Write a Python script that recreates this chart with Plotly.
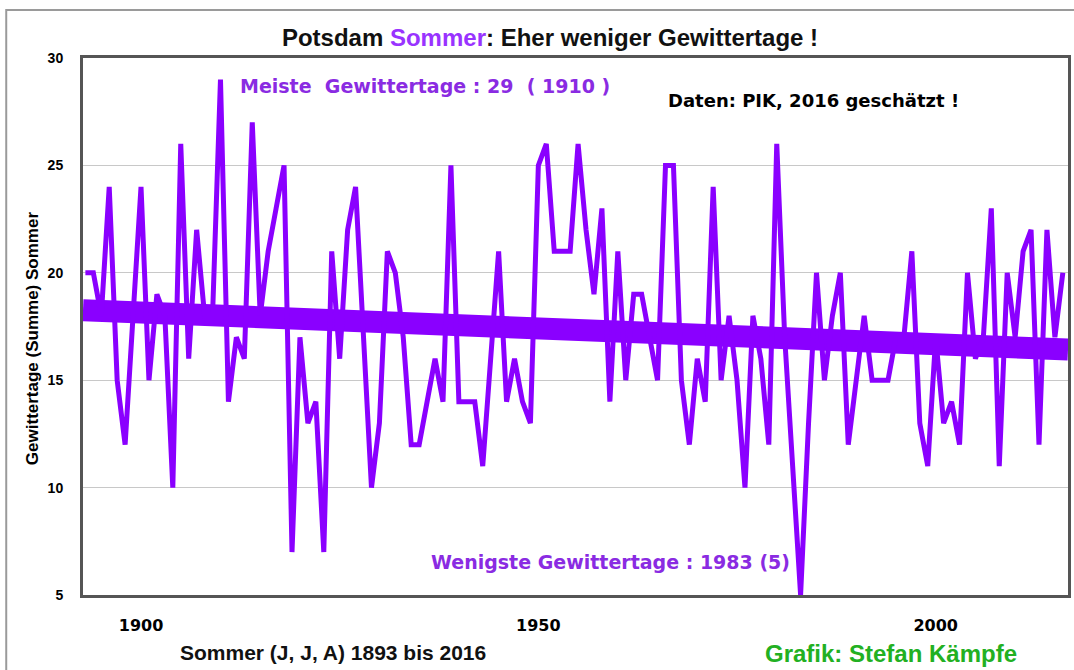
import plotly.graph_objects as go

# ---- data ----
first_year = 1893
last_year = 2016
years = list(range(first_year, last_year + 1))

gewittertage = [
    # 1893-1899
    20, 20, 18, 24, 15, 12, 18,
    # 1900-1909
    24, 15, 19, 18, 10, 26, 16, 22, 18, 18,
    # 1910-1919
    29, 14, 17, 16, 27, 18, 21, 23, 25, 7,
    # 1920-1929
    17, 13, 14, 7, 21, 16, 22, 24, 17, 10,
    # 1930-1939
    13, 21, 20, 17, 12, 12, 14, 16, 14, 25,
    # 1940-1949
    14, 14, 14, 11, 16, 21, 14, 16, 14, 13,
    # 1950-1959
    25, 26, 21, 21, 21, 26, 22, 19, 23, 14,
    # 1960-1969
    21, 15, 19, 19, 17, 15, 25, 25, 15, 12,
    # 1970-1979
    16, 14, 24, 15, 18, 15, 10, 18, 16, 12,
    # 1980-1989
    26, 17, 11, 5, 13, 20, 15, 18, 20, 12,
    # 1990-1999
    15, 18, 15, 15, 15, 17, 17, 21, 13, 11,
    # 2000-2009
    17, 13, 14, 12, 20, 16, 17, 23, 11, 20,
    # 2010-2016
    17, 21, 22, 12, 22, 17, 20,
]
assert len(gewittertage) == len(years)

trend_years = [1892.7, 2016.65]
trend_values = [18.26, 16.43]

x_tickvals = [1900, 1950, 2000]
x_ticktext = ["1900", "1950", "2000"]
y_tickvals = [5, 10, 15, 20, 25, 30]
y_ticktext = ["5", "10", "15", "20", "25", "30"]

# ---- styling ----
PURPLE = "#8a00ff"
TEXT_PURPLE = "#8a2be2"
FONT = "Liberation Sans, Arial, sans-serif"
WIDE = "DejaVu Sans, Verdana, sans-serif"

fig = go.Figure()

fig.add_trace(go.Scatter(
    x=trend_years, y=trend_values, mode="lines",
    line=dict(color=PURPLE, width=22), hoverinfo="skip", showlegend=False,
))
fig.add_trace(go.Scatter(
    x=years, y=gewittertage, mode="lines",
    line=dict(color=PURPLE, width=5), showlegend=False,
))

W, H = 1074, 670
L, R, T, B = 83, 3, 58, 75

fig.update_layout(
    width=W, height=H,
    margin=dict(l=L, r=R, t=T, b=B),
    paper_bgcolor="white", plot_bgcolor="white",
    font=dict(family=FONT, color="black"),
    title=dict(
        text="Potsdam <span style='color:#9933ff'>Sommer</span>: Eher weniger Gewittertage !",
        x=550 / W, xanchor="center", y=1 - 38 / H, yanchor="middle",
        font=dict(family=FONT, size=24, color="#111111", weight="bold"),
    ),
    xaxis=dict(
        range=[1892.7, 2016.65],
        tickvals=x_tickvals, ticktext=x_ticktext,
        showgrid=False, zeroline=False,
        showline=True, mirror=True, linecolor="#555555", linewidth=3,
        ticks="", ticklabelstandoff=14,
        tickfont=dict(family=WIDE, size=16, color="black", weight="bold"),
    ),
    yaxis=dict(
        range=[5, 30],
        tickvals=y_tickvals, ticktext=y_ticktext,
        showgrid=True, gridcolor="#c8c8c8", gridwidth=1, zeroline=False,
        showline=True, mirror=True, linecolor="#555555", linewidth=3,
        ticks="", ticklabelstandoff=14,
        tickfont=dict(family=FONT, size=14, color="black", weight="bold"),
    ),
)

pw, ph = W - L - R, H - T - B


def px(xp):
    return (xp - L) / pw


def py(yp):
    return (H - B - yp) / ph


annotations = [
    dict(text="Meiste  Gewittertage : 29  ( 1910 )", x=px(238), y=py(86),
         xanchor="left", yanchor="middle",
         font=dict(family=WIDE, size=19, color=TEXT_PURPLE, weight="bold")),
    dict(text="Daten: PIK, 2016 geschätzt !", x=px(668), y=py(100),
         xanchor="left", yanchor="middle",
         font=dict(family=WIDE, size=18, color="black", weight="bold")),
    dict(text="Wenigste Gewittertage : 1983 (5)", x=px(430), y=py(562),
         xanchor="left", yanchor="middle",
         font=dict(family=WIDE, size=19, color=TEXT_PURPLE, weight="bold")),
    dict(text="Gewittertage (Summe) Sommer", x=px(32), y=py(338),
         xanchor="center", yanchor="middle", textangle=-90,
         font=dict(family=FONT, size=17, color="black", weight="bold")),
    dict(text="Sommer (J, J, A) 1893 bis 2016", x=px(334), y=py(652),
         xanchor="center", yanchor="middle",
         font=dict(family=FONT, size=21, color="#111111", weight="bold")),
    dict(text="Grafik: Stefan Kämpfe", x=px(1022), y=py(653),
         xanchor="right", yanchor="middle",
         font=dict(family=FONT, size=24, color="#22b022", weight="bold")),
]
for a in annotations:
    a.update(xref="paper", yref="paper", showarrow=False)
fig.update_layout(annotations=annotations)

# outer frame of the graphic
fig.add_shape(type="rect", xref="paper", yref="paper",
              x0=px(6), y0=py(H + 5), x1=px(W + 5), y1=py(10),
              line=dict(color="#9a9a9a", width=2), layer="below")

fig.write_html("out.html", config={"displayModeBar": False},
               post_script="document.body.style.margin='0';")
